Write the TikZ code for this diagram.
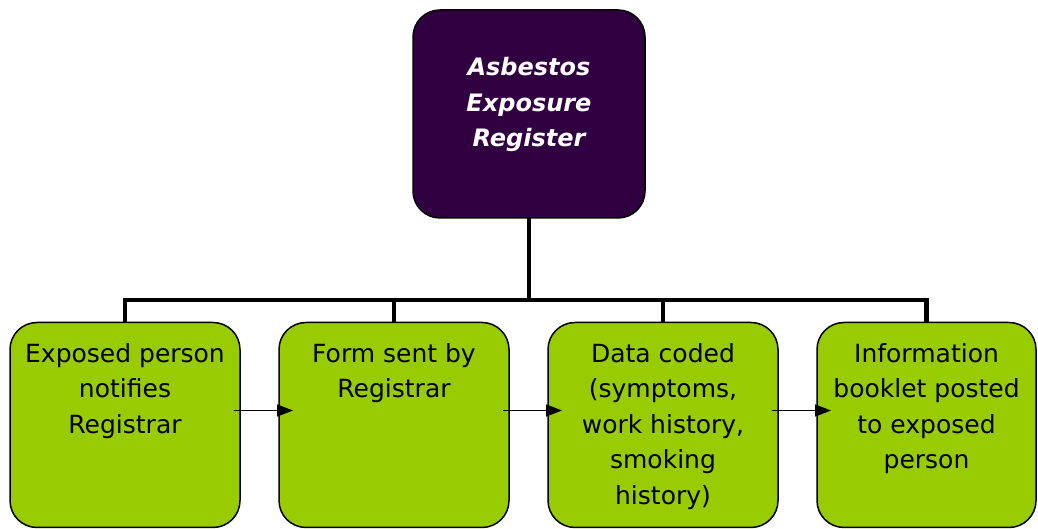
\documentclass[tikz,border=0pt]{standalone}
\usepackage{fontspec}
\setmainfont{DejaVu Sans}
\usepackage{xcolor}
\usetikzlibrary{positioning,arrows.meta}
\definecolor{regpurple}{HTML}{300040}
\definecolor{stepgreen}{HTML}{99CC00}
\newcommand{\stepbody}[2][230pt]{\parbox[c][205pt][t]{#1}{\centering\fontsize{25}{35.5}\selectfont\rule{0pt}{40pt}#2}}

\begin{document}
\begin{tikzpicture}[x=1pt, y=1pt,
    regbox/.style={rectangle, draw, line width=1.5pt, fill=regpurple, rounded corners=27pt, inner sep=0pt, outer sep=0pt},
    stepbox/.style={rectangle, draw, line width=1.5pt, fill=stepgreen, rounded corners=27pt, inner sep=0pt, outer sep=0pt},
    treeline/.style={line width=4.5pt},
    steparrow/.style={line width=1.5pt, -{Triangle[length=16pt,width=12pt]}}]
    \useasboundingbox (0,0) rectangle (1038,529);

    % Main components
    \node[regbox] (register) at (529,415) {\parbox[c][208pt][t]{232pt}{\centering\color{white}\itshape\bfseries\fontsize{24}{35.5}\selectfont\rule{0pt}{66pt}Asbestos\\Exposure\\Register}};
    \node[stepbox] (notify) at (125,104) {\stepbody{Exposed person\\notifies\\Registrar}};
    \node[stepbox, right=39pt of notify] (form) {\stepbody{Form sent by\\Registrar}};
    \node[stepbox, right=39pt of form] (coded) {\stepbody{Data coded\\(symptoms,\\work history,\\smoking\\history)}};
    \node[stepbox, right=39pt of coded] (info) {\stepbody[219pt]{Information\\booklet posted\\to exposed\\person}};

    % Tree lines
    \coordinate (bus) at (529,229);
    \draw[treeline] (register.south) -- (bus);
    \draw[treeline] (notify.north) |- (bus) -| (info.north);
    \draw[treeline] (form.north) |- (bus);
    \draw[treeline] (coded.north) |- (bus);

    % Connections
    \draw[steparrow] ([shift={(-6pt,14.5pt)}]notify.east) -- ([shift={(14pt,14.5pt)}]form.west);
    \draw[steparrow] ([shift={(-6pt,14.5pt)}]form.east) -- ([shift={(14pt,14.5pt)}]coded.west);
    \draw[steparrow] ([shift={(-6pt,14.5pt)}]coded.east) -- ([shift={(14pt,14.5pt)}]info.west);
\end{tikzpicture}
\end{document}
